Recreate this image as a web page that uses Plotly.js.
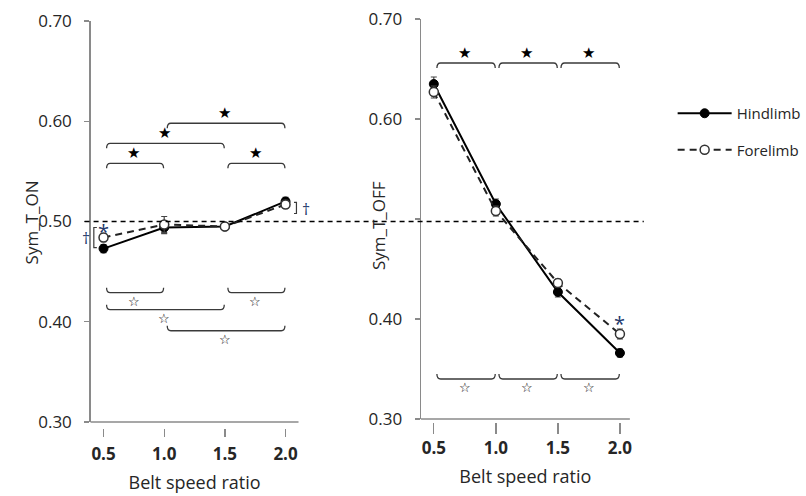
<!DOCTYPE html>
<html>
<head>
<meta charset="utf-8">
<script src="https://cdn.plot.ly/plotly-3.0.1.min.js"></script>
<style>html,body{margin:0;padding:0;background:#fff;}#chart{width:806px;height:496px;}</style>
</head>
<body>
<div id="chart"></div>
<script>
// ---- data ----
const categories = [0.5, 1.0, 1.5, 2.0];
const xTickLabels = ['0.5', '1.0', '1.5', '2.0'];
const yTickVals = [0.30, 0.40, 0.50, 0.60, 0.70];
const yTickLabelsOn = ['0.30', '0.40', '0.50', '0.60', '0.70'];
const yTickLabelsOff = ['0.30', '0.40', '', '0.60', '0.70'];

const onHind = [0.473, 0.494, 0.495, 0.520];
const onHindErr = [0.004, 0.006, 0.003, 0.004];
const onFore = [0.484, 0.497, 0.495, 0.517];
const onForeErr = [0.004, 0.008, 0.003, 0.004];

const offHind = [0.635, 0.515, 0.427, 0.366];
const offHindErr = [0.007, 0.005, 0.005, 0.004];
const offFore = [0.627, 0.508, 0.436, 0.385];
const offForeErr = [0.006, 0.005, 0.004, 0.005];

const seriesNames = ['Hindlimb', 'Forelimb'];
const refLevel = 0.5;

// ---- significance brackets (category pairs) ----
const onTopPairs = [[0.5, 1.0], [0.5, 1.5], [1.0, 2.0], [1.5, 2.0]];
const onBottomPairs = [[0.5, 1.0], [1.5, 2.0], [0.5, 1.5], [1.0, 2.0]];
const offTopPairs = [[0.5, 1.0], [1.0, 1.5], [1.5, 2.0]];
const offBottomPairs = [[0.5, 1.0], [1.0, 1.5], [1.5, 2.0]];

// layout levels for brackets
const onTopLevels = [0.558, 0.578, 0.598, 0.558];
const onBottomLevels = [0.429, 0.429, 0.412, 0.391];
const offTopLevels = [0.656, 0.656, 0.656];
const offBottomLevels = [0.340, 0.340, 0.340];

const W = 806, H = 496;
const axisGray = '#8a8a8a';
const textCol = '#262626';
const FONT = 'Open Sans, Noto Sans, sans-serif';

function hindTrace(y, err, xa, ya, show) {
  return {
    x: categories, y: y, xaxis: xa, yaxis: ya, type: 'scatter', mode: 'lines+markers',
    name: seriesNames[0], legendgroup: 'h', showlegend: show,
    line: {color: '#000', width: 2},
    marker: {symbol: 'circle', size: 9, color: '#000', line: {color: '#000', width: 1}},
    error_y: {type: 'data', array: err, visible: true, color: '#444', thickness: 1.2, width: 3},
    cliponaxis: false
  };
}
function foreTrace(y, err, xa, ya, show) {
  return {
    x: categories, y: y, xaxis: xa, yaxis: ya, type: 'scatter', mode: 'lines+markers',
    name: seriesNames[1], legendgroup: 'f', showlegend: show,
    line: {color: '#222', width: 2, dash: '7px,5px'},
    marker: {symbol: 'circle', size: 9, color: '#fff', line: {color: '#333', width: 1.5}},
    error_y: {type: 'data', array: err, visible: true, color: '#444', thickness: 1.2, width: 3},
    cliponaxis: false
  };
}

const traces = [
  hindTrace(onHind, onHindErr, 'x', 'y', true),
  foreTrace(onFore, onForeErr, 'x', 'y', true),
  hindTrace(offHind, offHindErr, 'x2', 'y2', false),
  foreTrace(offFore, offForeErr, 'x2', 'y2', false)
];

const shapes = [];
const annotations = [];

function bracket(xa, ya, a, b, level, dir, dx, dy) {
  // dir = -1: ends curl down (top brackets), +1: ends curl up (bottom brackets)
  const x0 = a + 0.025, x1 = b - 0.005;
  const ye = level + dir * dy;
  const path = 'M' + x0 + ',' + ye + ' Q' + x0 + ',' + level + ' ' + (x0 + dx) + ',' + level +
    ' L' + (x1 - dx) + ',' + level + ' Q' + x1 + ',' + level + ' ' + x1 + ',' + ye;
  shapes.push({type: 'path', xref: xa, yref: ya, path: path, line: {color: '#3a3a3a', width: 1.3}});
}
function starAnn(xa, ya, x, level, filled) {
  annotations.push({
    xref: xa, yref: ya, x: x, y: level, showarrow: false,
    text: filled ? '★' : '☆',
    font: {family: 'DejaVu Sans, sans-serif', size: filled ? 15 : 13, color: '#000'},
    yanchor: filled ? 'bottom' : 'top', yshift: filled ? -1 : 1
  });
}

onTopPairs.forEach((p, i) => { bracket('x', 'y', p[0], p[1], onTopLevels[i], -1, 0.03, 0.005); starAnn('x', 'y', (p[0] + p[1]) / 2, onTopLevels[i], true); });
onBottomPairs.forEach((p, i) => { bracket('x', 'y', p[0], p[1], onBottomLevels[i], 1, 0.03, 0.005); starAnn('x', 'y', (p[0] + p[1]) / 2, onBottomLevels[i], false); });
offTopPairs.forEach((p, i) => { bracket('x2', 'y2', p[0], p[1], offTopLevels[i], -1, 0.03, 0.005); starAnn('x2', 'y2', (p[0] + p[1]) / 2, offTopLevels[i], true); });
offBottomPairs.forEach((p, i) => { bracket('x2', 'y2', p[0], p[1], offBottomLevels[i], 1, 0.03, 0.005); starAnn('x2', 'y2', (p[0] + p[1]) / 2, offBottomLevels[i], false); });

// x axis lines (axes themselves are offset below)
shapes.push({type: 'line', xref: 'x domain', x0: 0, x1: 1, yref: 'y domain', y0: 0, y1: 0, line: {color: axisGray, width: 1.3}});
shapes.push({type: 'line', xref: 'x2 domain', x0: 0, x1: 1, yref: 'y2 domain', y0: 0, y1: 0, line: {color: axisGray, width: 1.3}});

// reference dashed line at 0.5 across both panels
shapes.push({type: 'line', xref: 'paper', x0: 85 / W, x1: 647 / W, yref: 'y', y0: refLevel, y1: refLevel,
  line: {color: '#000', width: 1.3, dash: '5px,4px'}});

// vertical brackets for hind vs fore difference (dagger)
shapes.push({type: 'path', xref: 'x', yref: 'y',
  path: 'M0.445,' + (onFore[0] + 0.01) + ' L0.42,' + (onFore[0] + 0.01) + ' L0.42,' + (onHind[0] + 0.001) + ' L0.445,' + (onHind[0] + 0.001),
  line: {color: '#3a3a3a', width: 1.2}});
shapes.push({type: 'path', xref: 'x', yref: 'y',
  path: 'M2.07,' + (onHind[3] - 0.001) + ' L2.09,' + (onHind[3] - 0.001) + ' L2.09,' + (onFore[3] - 0.009) + ' L2.07,' + (onFore[3] - 0.009),
  line: {color: '#3a3a3a', width: 1.2}});

const navy = '#23386b';
annotations.push({xref: 'paper', yref: 'y', x: 80 / W, y: 0.484, text: '†', showarrow: false, font: {family: FONT, size: 16, color: navy}});
annotations.push({xref: 'paper', yref: 'y', x: 308 / W, y: 0.512, text: '†', showarrow: false, font: {family: FONT, size: 16, color: navy}});
annotations.push({xref: 'x', yref: 'y', x: 0.5, y: 0.49, text: '*', showarrow: false, font: {family: FONT, size: 20, color: navy}});
annotations.push({xref: 'x2', yref: 'y2', x: 2.0, y: 0.396, text: '*', showarrow: false, font: {family: FONT, size: 20, color: navy}});

// y axis titles
annotations.push({xref: 'paper', yref: 'paper', x: 18 / W, y: (H - 222) / H, text: 'Sym_T_ON', textangle: -90, showarrow: false,
  font: {family: FONT, size: 17, color: textCol}});
annotations.push({xref: 'paper', yref: 'paper', x: 380 / W, y: (H - 226) / H, text: 'Sym_T_OFF', textangle: -90, showarrow: false,
  font: {family: FONT, size: 17, color: textCol}});

function xAxis(domain, range, pos, tlen, standoff) {
  return {
    domain: domain, range: range, anchor: 'free', position: pos,
    showline: false, showgrid: false, zeroline: false,
    ticks: 'outside', ticklen: tlen, tickwidth: 1.3, tickcolor: axisGray,
    tickvals: categories, ticktext: xTickLabels, ticklabelstandoff: standoff,
    tickfont: {family: FONT, size: 17, color: textCol, weight: 'bold'},
    title: {text: 'Belt speed ratio', font: {family: FONT, size: 18, color: textCol}, standoff: 11}
  };
}
function yAxis(domain, anchor, labels) {
  return {
    domain: domain, range: [0.30, 0.70], anchor: anchor,
    showline: true, linecolor: axisGray, linewidth: 1.3, showgrid: false, zeroline: false,
    ticks: 'outside', ticklen: 5, tickwidth: 1.3, tickcolor: axisGray,
    tickvals: yTickVals, ticktext: labels, ticklabelstandoff: 9,
    tickfont: {family: FONT, size: 17, color: textCol}
  };
}

const layout = {
  width: W, height: H,
  margin: {l: 0, r: 0, t: 0, b: 0, pad: 0},
  paper_bgcolor: '#fff', plot_bgcolor: 'rgba(0,0,0,0)',
  font: {family: FONT, color: textCol},
  xaxis: xAxis([91 / W, 300 / W], [0.393, 2.107], 68 / H, 8, 3),
  yaxis: yAxis([74 / H, 475 / H], 'x', yTickLabelsOn),
  xaxis2: xAxis([423 / W, 633 / W], [0.396, 2.08], 74 / H, 11, 0),
  yaxis2: yAxis([77 / H, 477 / H], 'x2', yTickLabelsOff),
  showlegend: true,
  legend: {x: 676 / W, xanchor: 'left', y: 1 - 97 / H, yanchor: 'top', bgcolor: 'rgba(0,0,0,0)',
    font: {family: FONT, size: 15, color: textCol}, tracegroupgap: 14, itemwidth: 54},
  shapes: shapes,
  annotations: annotations
};

Plotly.newPlot('chart', traces, layout, {displayModeBar: false, staticPlot: true});
</script>
</body>
</html>
